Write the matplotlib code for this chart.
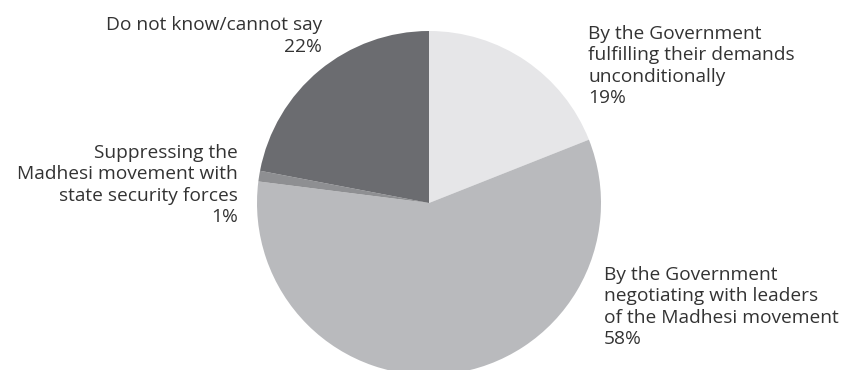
import matplotlib.pyplot as plt

# Survey answers, clockwise from the top
shares = [19, 58, 1, 22]
labels = [
    "By the Government\nfulfilling their demands\nunconditionally",
    "By the Government\nnegotiating with leaders\nof the Madhesi movement",
    "Suppressing the\nMadhesi movement with\nstate security forces",
    "Do not know/cannot say",
]
colors = ["#e6e6e8", "#b9babd", "#8e8f92", "#6b6c70"]

# label anchors in pixel space (x, y from top) with alignment
label_pos = [(588, 66, "left"), (604, 307, "left"), (238, 185, "right"), (322, 36, "right")]

W, H = 848, 370
fig = plt.figure(figsize=(W / 100, H / 100), dpi=100)
ax = fig.add_axes([0, 0, 1, 1])

ax.pie(shares, colors=colors, startangle=90, counterclock=False,
       center=(429, H - 203), radius=172, frame=True,
       wedgeprops=dict(linewidth=0))

for (lab, val, (x, y, ha)) in zip(labels, shares, label_pos):
    ax.text(x, H - y, f"{lab}\n{val}%", ha=ha, va="center", multialignment=ha,
            fontsize=13.8, family="Open Sans", color="#333333", linespacing=1.24)

ax.set_xlim(0, W)
ax.set_ylim(0, H)
ax.set_aspect("equal")
ax.axis("off")

fig.savefig("out.png", dpi=100)
